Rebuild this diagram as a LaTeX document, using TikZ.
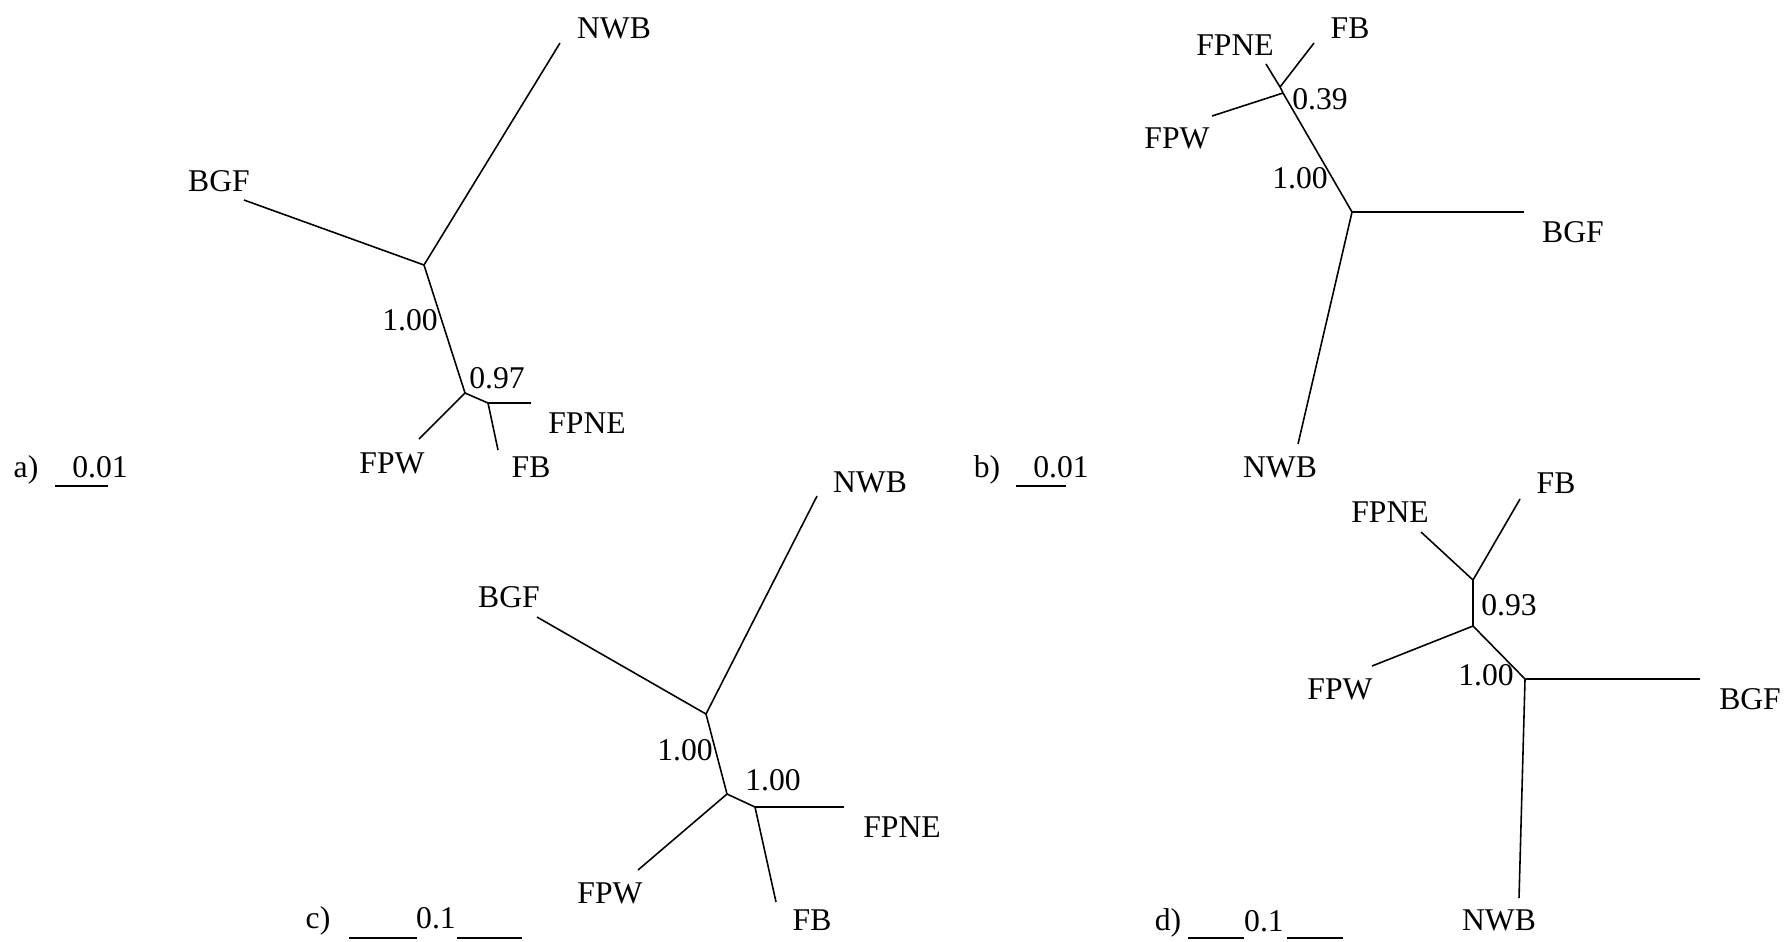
\documentclass[tikz,border=0pt]{standalone}
\usepackage{fontspec}
\setmainfont{Liberation Serif}
\usepackage{tikz}
\tikzstyle{branch}=[line width=0.45pt]
\tikzstyle{taxon}=[font=\fontsize{9}{11}\selectfont, inner sep=0pt, anchor=base]
\tikzstyle{supp}=[taxon]
\tikzstyle{scalebar}=[line width=0.5pt]
\tikzstyle{tick}=[line width=0.8pt]

\begin{document}
\begin{tikzpicture}[x=0.01cm,y=-0.01cm]
				\useasboundingbox (0,0) rectangle (1789,941);
				
				\coordinate (a0) at (424,265);
				\coordinate (a1) at (465,393);
				\coordinate (a2) at (488,403);
				\coordinate (aNWB) at (560,43);
				\coordinate (aBGF) at (244,200);
				\coordinate (aFPNE) at (531,403);
				\coordinate (aFB) at (498,450);
				\coordinate (aFPW) at (419,439);
				\draw[branch] (a0)edge(aNWB) (a0)edge(aBGF) (a0)edge(a1);
				\draw[branch] (a1)edge(aFPW) (a1)edge(a2);
				\draw[branch] (a2)edge(aFPNE) (a2)edge(aFB);
				\node[taxon] (la NWB) at (614,38) {NWB};
				\node[taxon] (la BGF) at (219,191) {BGF};
				\node[taxon] (la FPNE) at (587,433) {FPNE};
				\node[taxon] (la FB) at (531,477) {FB};
				\node[taxon] (la FPW) at (392,473) {FPW};
				\node[supp] (sa0) at (410,330) {1.00};
				\node[supp] (sa1) at (497,388) {0.97};
				\node[taxon] (pa) at (26,477) {a)};
				\node[taxon] (ska) at (100,477) {0.01};
				\draw[scalebar] (55,486) -- (108,486);
				\draw[tick] (55,486) -- (72,486);
				
				\coordinate (b0) at (1280,87);
				\coordinate (b1) at (1283,93);
				\coordinate (b2) at (1352,212);
				\coordinate (bFB) at (1314,43);
				\coordinate (bFPNE) at (1266,64);
				\coordinate (bFPW) at (1212,116);
				\coordinate (bBGF) at (1524,212);
				\coordinate (bNWB) at (1298,444);
				\draw[branch] (b0)edge(bFB) (b0)edge(bFPNE) (b0)edge(b1);
				\draw[branch] (b1)edge(bFPW) (b1)edge(b2);
				\draw[branch] (b2)edge(bBGF) (b2)edge(bNWB);
				\node[taxon] (lb FB) at (1350,38) {FB};
				\node[taxon] (lb FPNE) at (1235,55) {FPNE};
				\node[taxon] (lb FPW) at (1177,148) {FPW};
				\node[taxon] (lb BGF) at (1573,242) {BGF};
				\node[taxon] (lb NWB) at (1280,477) {NWB};
				\node[supp] (sb0) at (1320,109) {0.39};
				\node[supp] (sb1) at (1300,188) {1.00};
				\node[taxon] (pb) at (987,477) {b)};
				\node[taxon] (skb) at (1061,477) {0.01};
				\draw[scalebar] (1016,486) -- (1066,486);
				\draw[tick] (1016,486) -- (1033,486);
				
				\coordinate (c0) at (706,714);
				\coordinate (c1) at (727,794);
				\coordinate (c2) at (755,807);
				\coordinate (cNWB) at (817,496);
				\coordinate (cBGF) at (537,617);
				\coordinate (cFPNE) at (844,807);
				\coordinate (cFB) at (776,902);
				\coordinate (cFPW) at (638,870);
				\draw[branch] (c0)edge(cNWB) (c0)edge(cBGF) (c0)edge(c1);
				\draw[branch] (c1)edge(cFPW) (c1)edge(c2);
				\draw[branch] (c2)edge(cFPNE) (c2)edge(cFB);
				\node[taxon] (lc NWB) at (870,492) {NWB};
				\node[taxon] (lc BGF) at (509,607) {BGF};
				\node[taxon] (lc FPNE) at (902,837) {FPNE};
				\node[taxon] (lc FB) at (812,930) {FB};
				\node[taxon] (lc FPW) at (610,903) {FPW};
				\node[supp] (sc0) at (685,760) {1.00};
				\node[supp] (sc1) at (773,790) {1.00};
				\node[taxon] (pc) at (318,928) {c)};
				\node[taxon] (skc) at (436,928) {0.1};
				\draw[scalebar] (349,938) -- (417,938) (457,938) -- (522,938);
				
				\coordinate (d0) at (1473,580);
				\coordinate (d1) at (1473,626);
				\coordinate (d2) at (1525,679);
				\coordinate (dFB) at (1520,499);
				\coordinate (dFPNE) at (1421,532);
				\coordinate (dFPW) at (1372,666);
				\coordinate (dBGF) at (1700,679);
				\coordinate (dNWB) at (1519,898);
				\draw[branch] (d0)edge(dFB) (d0)edge(dFPNE) (d0)edge(d1);
				\draw[branch] (d1)edge(dFPW) (d1)edge(d2);
				\draw[branch] (d2)edge(dBGF) (d2)edge(dNWB);
				\node[taxon] (ld FB) at (1556,493) {FB};
				\node[taxon] (ld FPNE) at (1390,522) {FPNE};
				\node[taxon] (ld FPW) at (1340,699) {FPW};
				\node[taxon] (ld BGF) at (1750,709) {BGF};
				\node[taxon] (ld NWB) at (1499,930) {NWB};
				\node[supp] (sd0) at (1509,615) {0.93};
				\node[supp] (sd1) at (1486,685) {1.00};
				\node[taxon] (pd) at (1168,930) {d)};
				\node[taxon] (skd) at (1264,931) {0.1};
				\draw[scalebar] (1188,938) -- (1244,938) (1287,938) -- (1343,938);
			\end{tikzpicture}
\end{document}
